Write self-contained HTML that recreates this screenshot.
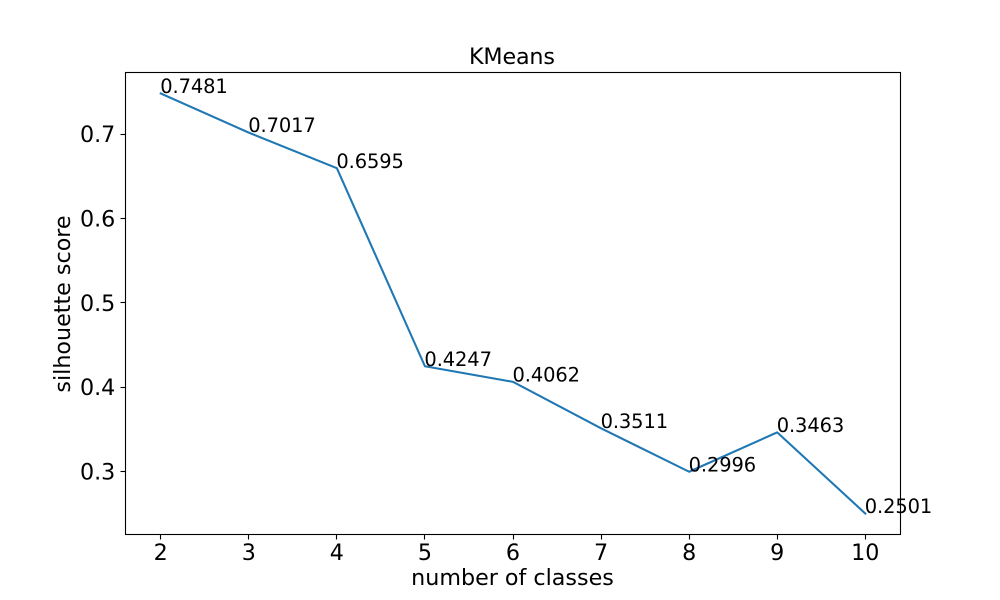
<!DOCTYPE html>
<html>
<head>
<meta charset="utf-8">
<title>KMeans</title>
<style>
html,body{margin:0;padding:0;background:#fff;}
svg{display:block;font-family:"DejaVu Sans",sans-serif;}
</style>
</head>
<body>
<svg id="chart" xmlns="http://www.w3.org/2000/svg" width="1000" height="600" viewBox="0 0 1000 600">
<rect x="0" y="0" width="1000" height="600" fill="#ffffff"/>
<text x="469" y="64" font-size="22.22" letter-spacing="-0.15" fill="#000">KMeans</text>
<text x="512.5" y="585" font-size="22.22" text-anchor="middle" fill="#000">number of classes</text>
<text transform="translate(70,304) rotate(-90)" font-size="22.22" text-anchor="middle" fill="#000">silhouette score</text>
<g id="layer"></g>
</svg>
<script>
const categories = [2, 3, 4, 5, 6, 7, 8, 9, 10];
const scores = [0.7481, 0.7017, 0.6595, 0.4247, 0.4062, 0.3511, 0.2996, 0.3463, 0.2501];
const xTickLabels = ['2', '3', '4', '5', '6', '7', '8', '9', '10'];
const yTickValues = [0.3, 0.4, 0.5, 0.6, 0.7];

const NS = 'http://www.w3.org/2000/svg';
const layer = document.getElementById('layer');
const box = { left: 125.5, right: 900.5, top: 72.5, bottom: 534.5 };

const xMin = Math.min(...categories), xMax = Math.max(...categories);
const yMin = Math.min(...scores), yMax = Math.max(...scores);
const xPad = (xMax - xMin) * 0.05, yPad = (yMax - yMin) * 0.05;

function xScale(v) {
  return box.left + (v - (xMin - xPad)) / ((xMax + xPad) - (xMin - xPad)) * (box.right - box.left);
}
function yScale(v) {
  return box.bottom - (v - (yMin - yPad)) / ((yMax + yPad) - (yMin - yPad)) * (box.bottom - box.top);
}
function snap(p) {
  return Math.floor(p) + 0.5;
}
function make(tag, attrs, text) {
  const el = document.createElementNS(NS, tag);
  for (const k in attrs) el.setAttribute(k, attrs[k]);
  if (text !== undefined) el.textContent = text;
  layer.appendChild(el);
  return el;
}

const line = make('polyline', {
  points: categories.map((c, i) => xScale(c) + ',' + yScale(scores[i])).join(' '),
  fill: 'none', stroke: '#1f77b4', 'stroke-width': 2.08, 'stroke-linejoin': 'round', 'stroke-linecap': 'square'
});



const frame = make('rect', {
  x: box.left, y: box.top, width: box.right - box.left, height: box.bottom - box.top,
  fill: 'none', stroke: '#000', 'stroke-width': 1.1
});



categories.forEach((c, i) => {
  const x = xScale(c);
  const tick = make('line', { x1: snap(x), x2: snap(x), y1: box.bottom, y2: box.bottom + 5, stroke: '#000', 'stroke-width': 1.1 });
  
  
  const label = make('text', { x: x, y: 560, 'font-size': 22.22, 'text-anchor': 'middle', fill: '#000' }, xTickLabels[i]);
  
  
});

yTickValues.forEach((v) => {
  const y = yScale(v);
  const tick = make('line', { x1: box.left - 5, x2: box.left, y1: snap(y), y2: snap(y), stroke: '#000', 'stroke-width': 1.1 });
  
  
  const label = make('text', { x: 115.3, y: y + 8.1, 'font-size': 22.22, 'text-anchor': 'end', fill: '#000' }, v.toFixed(1));
  
  
});

categories.forEach((c, i) => {
  const note = make('text', { x: xScale(c) - 0.5, y: yScale(scores[i]) - 0.4, 'font-size': 19.44, 'letter-spacing': -0.1, fill: '#000' }, scores[i].toFixed(4));
  
  
});
</script>
</body>
</html>
